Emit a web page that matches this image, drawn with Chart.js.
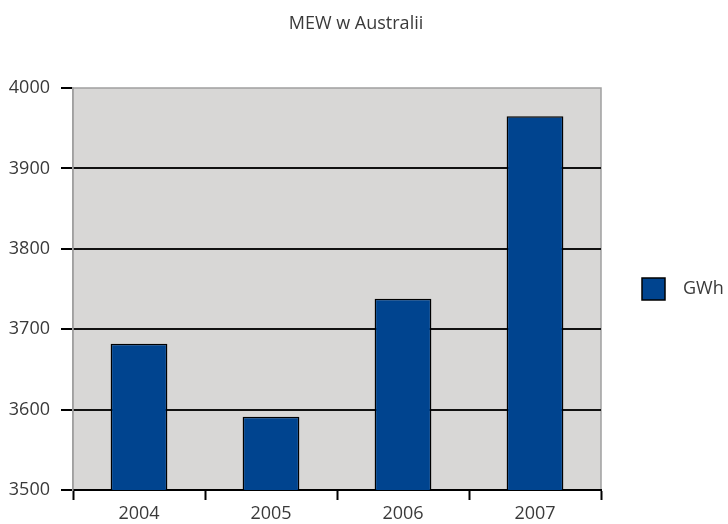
<!DOCTYPE html>
<html>
<head>
<meta charset="utf-8">
<script src="https://cdn.jsdelivr.net/npm/chart.js@4/dist/chart.umd.min.js"></script>
<style>
html,body{margin:0;padding:0;background:#fff;}
#wrap{width:728px;height:524px;}
</style>
</head>
<body>
<div id="wrap"><canvas id="c" width="728" height="524"></canvas></div>
<script>
const categories = ['2004', '2005', '2006', '2007'];
const gwhValues = [3682, 3591, 3738, 3965];
const seriesLabel = 'GWh';
const chartTitle = 'MEW w Australii';
const yMin = 3500, yMax = 4000, yStep = 100;

const FONT = '"Open Sans", "DejaVu Sans", sans-serif';
const BAR_COLOR = '#00448f';
const TEXT_COLOR = '#3a3a3a';

const decor = {
  id: 'decor',
  beforeDraw(chart) {
    const {ctx, chartArea: a} = chart;
    ctx.save();
    ctx.fillStyle = '#d8d7d6';
    ctx.fillRect(a.left, a.top, a.right - a.left, a.bottom - a.top);
    ctx.strokeStyle = '#a0a0a0';
    ctx.lineWidth = 1.5;
    ctx.strokeRect(a.left, a.top, a.right - a.left, a.bottom - a.top);
    ctx.restore();
  },
  afterDraw(chart) {
    const {ctx, chartArea: a} = chart;
    const ds = chart.data.datasets[0];
    ctx.save();
    ctx.fillStyle = TEXT_COLOR;
    ctx.font = '18px ' + FONT;
    ctx.textAlign = 'center';
    ctx.textBaseline = 'middle';
    ctx.fillText(chartTitle, 356, 24);
    const cy = (a.top + a.bottom) / 2;
    const bx = 642, bw = 23, bh = 22;
    ctx.fillStyle = ds.backgroundColor;
    ctx.fillRect(bx, cy - bh / 2, bw, bh);
    ctx.strokeStyle = '#000';
    ctx.lineWidth = 1.5;
    ctx.strokeRect(bx, cy - bh / 2, bw, bh);
    ctx.fillStyle = TEXT_COLOR;
    ctx.textAlign = 'left';
    ctx.fillText(ds.label, 683, cy);
    ctx.restore();
  }
};

new Chart(document.getElementById('c'), {
  type: 'bar',
  data: {
    labels: categories,
    datasets: [{
      label: seriesLabel,
      data: gwhValues,
      backgroundColor: BAR_COLOR,
      borderColor: '#000',
      borderWidth: 1.5,
      borderSkipped: false,
      barPercentage: 0.43,
      categoryPercentage: 1.0
    }]
  },
  options: {
    responsive: false,
    animation: false,
    devicePixelRatio: 1,
    layout: {padding: {left: 0, right: 127, top: 88, bottom: 0}},
    plugins: {
      legend: {display: false},
      tooltip: {enabled: false},
      title: {display: false}
    },
    scales: {
      x: {
        offset: true,
        afterFit(s) { s.height = 34; },
        grid: {
          offset: true,
          drawOnChartArea: false,
          drawTicks: true,
          tickLength: 10,
          tickColor: '#000',
          tickWidth: 2
        },
        border: {display: true, color: '#000', width: 2},
        ticks: {
          color: TEXT_COLOR,
          padding: 3,
          font: {family: FONT, size: 18}
        }
      },
      y: {
        min: yMin,
        max: yMax,
        afterFit(s) { s.width = 73; },
        ticks: {
          stepSize: yStep,
          color: TEXT_COLOR,
          padding: 11,
          font: {family: FONT, size: 18},
          callback: (v) => String(v)
        },
        grid: {
          color: (c) => (c.tick && (c.tick.value === yMax || c.tick.value === yMin)) ? 'rgba(0,0,0,0)' : '#111',
          lineWidth: 2,
          tickLength: 12,
          tickColor: '#000',
          tickWidth: 2
        },
        border: {display: true, color: '#a0a0a0', width: 1.5}
      }
    }
  },
  plugins: [decor]
});
</script>
</body>
</html>
